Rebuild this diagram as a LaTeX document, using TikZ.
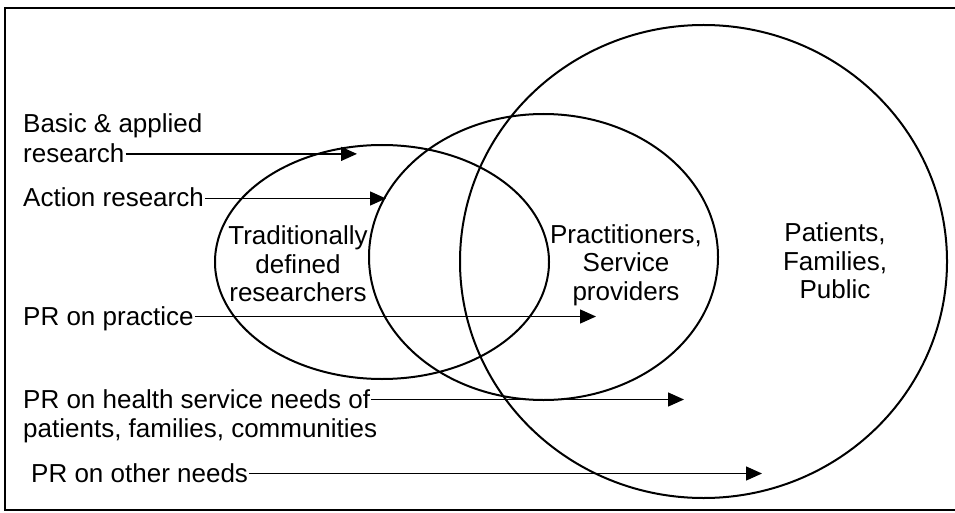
\documentclass[tikz,border=0pt]{standalone}
\usepackage{fontspec}
\setmainfont{Liberation Sans}
\usetikzlibrary{positioning, arrows.meta}

\begin{document}
\begin{tikzpicture}[x=1pt, y=1pt, node distance=10pt,
		>={Triangle[length=16pt, width=14pt]},
		lbl/.style={inner sep=1pt, text height=17pt, text depth=0pt, font=\fontsize{26}{28.5}\selectfont},
		grp/.style={align=center, inner sep=0pt, font=\fontsize{26}{28.5}\selectfont},
		ring/.style={line width=2pt},
		feed/.style={->, line width=1.4pt}]
	\useasboundingbox (0,0) rectangle (955,-513);
	\draw[line width=1.4pt] (955,-8) -- (5,-8) -- (5,-510) -- (955,-510);

	% the three groups
	\draw[ring] (382,-262) ellipse [x radius=167pt, y radius=117pt];
	\draw[ring] (543.5,-257) ellipse [x radius=174.5pt, y radius=143pt];
	\draw[ring] (703.5,-261.5) ellipse [x radius=243.5pt, y radius=236.5pt];
	\node[grp] (trad) at (298,-264) {Traditionally\\defined\\researchers};
	\node[grp] (pract) at (626,-265) {Practitioners,\\Service\\providers};
	\node[grp] (publ) at (835,-261) {Patients,\\Families,\\Public};

	% kinds of research
	\node[lbl, anchor=base west] (basic) at (22,-133) {Basic \& applied};
	\node[lbl, below=10pt of basic.south west, anchor=north west] (basicb) {research};
	\node[lbl, anchor=base west] (act) at (22,-207) {Action research};
	\node[lbl, anchor=base west] (prac) at (22,-325) {PR on practice};
	\node[lbl, anchor=base west] (hlth) at (22,-408) {PR on health service needs of};
	\node[lbl, below=10pt of hlth.south west, anchor=north west] (hlthb) {patients, families, communities};
	\node[lbl, anchor=base west] (other) at (30,-482) {PR on other needs};

	\coordinate (basictip) at (357,-156);
	\coordinate (acttip) at (386,-200);
	\coordinate (practip) at (596,-317);
	\coordinate (hlthtip) at (684,-397);
	\coordinate (othertip) at (762,-472);

	\draw[feed] (basicb.east) -- (basicb.east -| basictip);
	\draw[feed] (act.east) -- (act.east -| acttip);
	\draw[feed] (prac.east) -- (prac.east -| practip);
	\draw[feed] (hlth.east) -- (hlth.east -| hlthtip);
	\draw[feed] (other.east) -- (other.east -| othertip);
\end{tikzpicture}
\end{document}
